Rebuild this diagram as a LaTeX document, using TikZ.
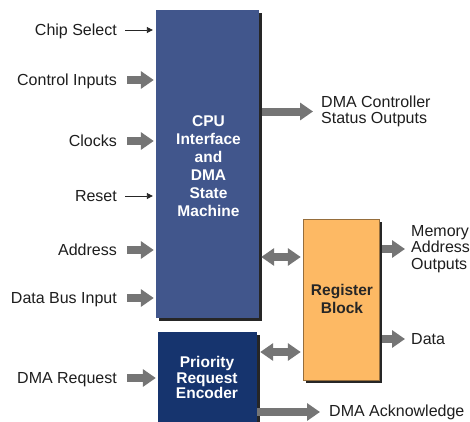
\documentclass[tikz,border=0pt]{standalone}
\usepackage{fontspec}
\setmainfont{Liberation Sans}
\usetikzlibrary{arrows.meta,shadows}
\definecolor{cpublue}{RGB}{65,86,140}
\definecolor{prionavy}{RGB}{22,52,110}
\definecolor{regorange}{RGB}{253,185,100}
\definecolor{regedge}{RGB}{150,110,60}
\definecolor{arrowgray}{RGB}{117,117,117}
\definecolor{labeltext}{RGB}{30,30,30}
\begin{document}
\begin{tikzpicture}[x=1pt,y=-1pt,
  lbl/.style={font=\fontsize{16}{16.5}\selectfont, text=labeltext, inner sep=0pt},
  lblin/.style={lbl, anchor=east, text height=11.5pt, text depth=0pt},
  lblout/.style={lbl, anchor=west, align=left},
  block/.style={inner sep=0pt, drop shadow={shadow xshift=3pt, shadow yshift=-3pt, opacity=1, fill=black!85}},
  thinarrow/.style={draw=black!85, line width=0.9pt, -{Triangle[length=6pt,width=6pt]}},
  bigarrow/.style={draw=arrowgray, line width=8pt, -{Triangle[length=13pt,width=17pt]}},
  bothway/.style={draw=arrowgray, line width=8pt, {Triangle[length=13pt,width=17pt]}-{Triangle[length=13pt,width=17pt]}}
]
\path[use as bounding box, fill=white] (0,0) rectangle (470,421);

% functional blocks
\node[block, fill=cpublue, minimum width=103pt, minimum height=308pt] (cpu) at (207.5,164) {};
\node[block, fill=prionavy, minimum width=99pt, minimum height=90pt] (prio) at (207.5,377) {};
\node[block, fill=regorange, draw=regedge, line width=0.5pt, minimum width=76pt, minimum height=161pt] (reg) at (341,299.5) {};

\node[text=white, font=\bfseries\fontsize{15.5}{18}\selectfont, align=center, inner sep=0pt] (cputxt) at (208.5,166)
  {CPU\\Interface\\and\\DMA\\State\\Machine};
\node[text=white, font=\bfseries\fontsize{15.5}{15.5}\selectfont, align=center, inner sep=0pt] (priotxt) at (207,377.5)
  {Priority\\Request\\Encoder};
\node[text=black!85, font=\bfseries\fontsize{15.5}{18}\selectfont, align=center, inner sep=0pt] (regtxt) at (342,299)
  {Register\\Block};

% inputs
\node[lblin] (cs)   at (117,30)  {Chip Select};
\node[lblin] (ctl)  at (117,80)  {Control Inputs};
\node[lblin] (clk)  at (117,141) {Clocks};
\node[lblin] (rst)  at (117,196) {Reset};
\node[lblin] (adr)  at (117,250) {Address};
\node[lblin] (dbi)  at (117,298) {Data Bus Input};
\node[lblin] (dreq) at (117,378) {DMA Request};

\draw[thinarrow] ([xshift=8pt]cs.east)  -- ([xshift=-3pt]cs.east -| cpu.west);
\draw[bigarrow]  ([xshift=10pt]ctl.east) -- ([xshift=-2pt]ctl.east -| cpu.west);
\draw[bigarrow]  ([xshift=10pt]clk.east) -- ([xshift=-2pt]clk.east -| cpu.west);
\draw[thinarrow] ([xshift=8pt]rst.east) -- ([xshift=-3pt]rst.east -| cpu.west);
\draw[bigarrow]  ([xshift=10pt]adr.east) -- ([xshift=-2pt]adr.east -| cpu.west);
\draw[bigarrow]  ([xshift=10pt]dbi.east) -- ([xshift=-2pt]dbi.east -| cpu.west);
\draw[bigarrow]  ([xshift=10pt]dreq.east) -- ([xshift=-2pt]dreq.east -| prio.west);

% outputs
\node[lblout] (stat) at (321,111.5) {DMA Controller\\Status Outputs};
\node[lblout] (mao)  at (411,249)   {Memory\\Address\\Outputs};
\node[lblout] (dat)  at (411,339)   {Data};
\node[lblout] (ack)  at (329,412)   {DMA Acknowledge};

\draw[bigarrow] ([xshift=3pt]stat.west -| cpu.east) -- ([xshift=-8pt]stat.west);
\draw[bigarrow] ([xshift=3pt]mao.west -| reg.east) -- ([xshift=-6pt]mao.west);
\draw[bigarrow] ([xshift=3pt]dat.west -| reg.east) -- ([xshift=-6pt]dat.west);
\draw[bigarrow] (ack.west -| prio.east) -- ([xshift=-9pt]ack.west);

% internal buses
\coordinate (busA) at (0,257);
\coordinate (busB) at (0,352);
\draw[bothway] ([xshift=2pt]busA -| cpu.east) -- ([xshift=-2pt]busA -| reg.west);
\draw[bothway] ([xshift=3pt]busB -| prio.east) -- ([xshift=-2pt]busB -| reg.west);
\end{tikzpicture}
\end{document}
